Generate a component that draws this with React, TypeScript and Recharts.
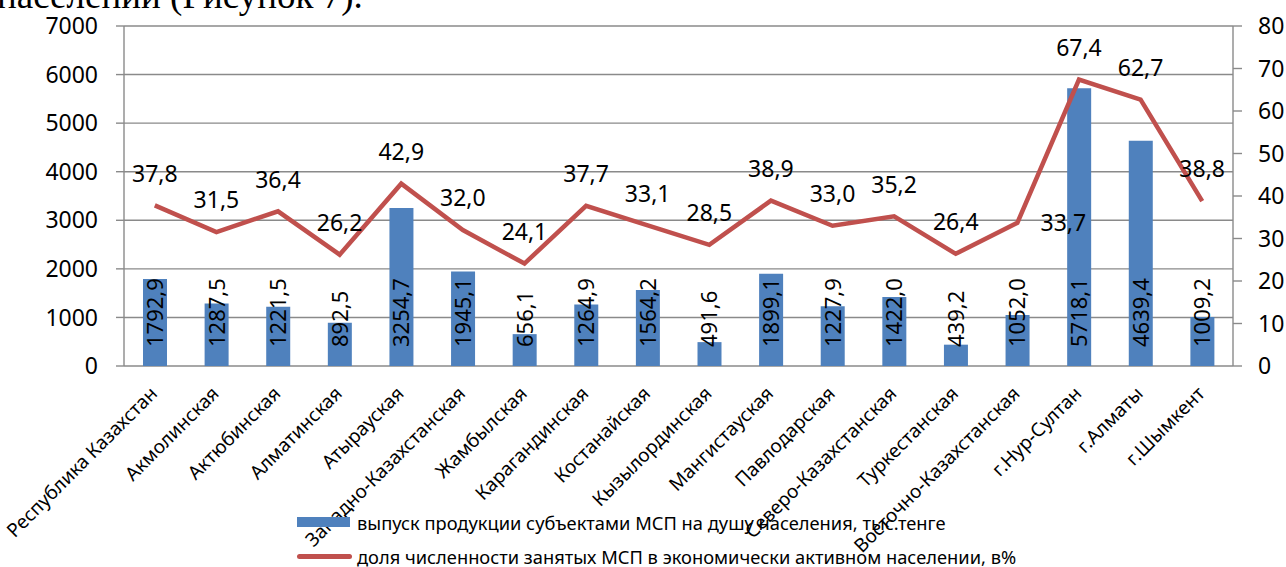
import React from "react";
import {
  ComposedChart,
  Bar,
  Line,
  XAxis,
  YAxis,
  CartesianGrid,
  Legend,
  LabelList,
} from "recharts";

// Regions of Kazakhstan (x axis categories)
const regions = [
  "Республика Казахстан",
  "Акмолинская",
  "Актюбинская",
  "Алматинская",
  "Атырауская",
  "Западно-Казахстанская",
  "Жамбылская",
  "Карагандинская",
  "Костанайская",
  "Кызылординская",
  "Мангистауская",
  "Павлодарская",
  "Северо-Казахстанская",
  "Туркестанская",
  "Восточно-Казахстанская",
  "г.Нур-Султан",
  "г.Алматы",
  "г.Шымкент",
];

// Output of SME production per capita, thousand tenge (bars, left axis)
const outputPerCapita = [
  1792.9, 1287.5, 1221.5, 892.5, 3254.7, 1945.1, 656.1, 1264.9, 1564.2, 491.6,
  1899.1, 1227.9, 1422.0, 439.2, 1052.0, 5718.1, 4639.4, 1009.2,
];

// Share of SME employment in economically active population, % (line, right axis)
const employmentShare = [
  37.8, 31.5, 36.4, 26.2, 42.9, 32.0, 24.1, 37.7, 33.1, 28.5, 38.9, 33.0, 35.2,
  26.4, 33.7, 67.4, 62.7, 38.8,
];

const leftTicks = [0, 1000, 2000, 3000, 4000, 5000, 6000, 7000];
const rightTicks = [0, 10, 20, 30, 40, 50, 60, 70, 80];
// category boundaries, used for the Excel-style tick marks between bars
const edgeTicks = [...regions.map((_, i) => i), regions.length];

const barName = "выпуск продукции субъектами МСП на душу населения, тыс.тенге";
const lineName =
  "доля численности занятых МСП в экономически активном населении, в%";

const BLUE = "#4F81BD";
const RED = "#C0504D";
const GRAY = "#8a8a8a";
const FONT = "'Noto Sans', sans-serif";

const data = regions.map((region, i) => ({
  region,
  output: outputPerCapita[i],
  share: employmentShare[i],
}));

// 1792.9 -> "1792,9"
const fmt = (v: number) => v.toFixed(1).replace(".", ",");

const RegionTick = (props: any) => {
  const { x, y, payload } = props;
  const tx = x - 1;
  return (
    <text
      x={tx}
      y={y}
      transform={`rotate(-45, ${tx}, ${y})`}
      textAnchor="end"
      dy="0.35em"
      fontSize={19}
      fontFamily={FONT}
      fill="#000"
    >
      {payload.value}
    </text>
  );
};

const BarValueLabel = (props: any) => {
  const { x, y, width, height, value } = props;
  const cx = x + width / 2;
  const by = y + height - 19;
  return (
    <text
      x={cx}
      y={by}
      transform={`rotate(-90, ${cx}, ${by})`}
      textAnchor="start"
      dy="0.36em"
      fontSize={22}
      fontFamily={FONT}
      fill="#000"
    >
      {fmt(value)}
    </text>
  );
};

const ShareLabel = (props: any) => {
  const { x, y, value, index } = props;
  // the Восточно-Казахстанская label sits to the right of its point
  const moved = index === 14;
  return (
    <text
      x={moved ? x + 46 : x}
      y={moved ? y : y - 32}
      textAnchor="middle"
      dy="0.36em"
      fontSize={23}
      fontFamily={FONT}
      fill="#000"
    >
      {fmt(value)}
    </text>
  );
};

const LegendContent = () => (
  <div style={{ fontFamily: FONT, fontSize: 18.3, color: "#000" }}>
    <div style={{ display: "flex", alignItems: "center", height: 34 }}>
      <span
        style={{ width: 53, height: 10, background: BLUE, marginRight: 7 }}
      />
      <span>{barName}</span>
    </div>
    <div style={{ display: "flex", alignItems: "center", height: 34 }}>
      <span
        style={{
          width: 55,
          height: 5,
          borderRadius: 3,
          background: RED,
          marginRight: 5,
        }}
      />
      <span>{lineName}</span>
    </div>
  </div>
);

const App: React.FC = () => {
  return (
    <div style={{ position: "absolute", left: 0, top: 0, width: 1286, height: 567 }}>
      {/* tail of the paragraph above the figure, cut by the screenshot */}
      <svg
        width={1286}
        height={30}
        style={{ position: "absolute", left: 0, top: 0 }}
      >
        <text
          x={-3}
          y={8}
          fontSize={37}
          fontFamily="'Liberation Serif', serif"
          fill="#000"
        >
          населении (Рисунок 7).
        </text>
      </svg>

      <ComposedChart
        width={1286}
        height={567}
        data={data}
        margin={{ top: 26, right: 0, bottom: 0, left: 0 }}
      >
        <CartesianGrid
          yAxisId="left"
          vertical={false}
          stroke={GRAY}
          strokeWidth={1.4}
        />

        {/* boundary ticks between categories */}
        <XAxis
          xAxisId="edge"
          type="number"
          domain={[0, regions.length]}
          ticks={edgeTicks}
          tick={false}
          tickSize={7}
          height={0}
          axisLine={{ stroke: GRAY, strokeWidth: 1.4 }}
          tickLine={{ stroke: GRAY, strokeWidth: 1.4 }}
          allowDataOverflow
        />
        <XAxis
          dataKey="region"
          interval={0}
          axisLine={false}
          tickLine={false}
          tickSize={0}
          tickMargin={24}
          height={201}
          tick={<RegionTick />}
        />

        <YAxis
          yAxisId="left"
          domain={[0, 7000]}
          ticks={leftTicks}
          width={124}
          tickSize={8}
          tickMargin={18}
          axisLine={{ stroke: GRAY, strokeWidth: 1.4 }}
          tickLine={{ stroke: GRAY, strokeWidth: 1.4 }}
          tick={{ fontSize: 23, fontFamily: FONT, fill: "#000" }}
        />
        <YAxis
          yAxisId="right"
          orientation="right"
          domain={[0, 80]}
          ticks={rightTicks}
          width={53}
          tickSize={9}
          tickMargin={16}
          axisLine={{ stroke: GRAY, strokeWidth: 1.4 }}
          tickLine={{ stroke: GRAY, strokeWidth: 1.4 }}
          tick={{ fontSize: 23, fontFamily: FONT, fill: "#000" }}
        />

        <Legend
          layout="vertical"
          align="center"
          verticalAlign="middle"
          content={<LegendContent />}
          wrapperStyle={{ left: 297, top: 505, width: 900, height: 68 }}
        />

        <Bar
          yAxisId="left"
          dataKey="output"
          name={barName}
          fill={BLUE}
          barSize={24}
          isAnimationActive={false}
        >
          <LabelList dataKey="output" content={<BarValueLabel />} />
        </Bar>
        <Line
          yAxisId="right"
          dataKey="share"
          name={lineName}
          stroke={RED}
          strokeWidth={4.5}
          dot={false}
          activeDot={false}
          type="linear"
          isAnimationActive={false}
        >
          <LabelList dataKey="share" content={<ShareLabel />} />
        </Line>
      </ComposedChart>
    </div>
  );
};

export default App;
